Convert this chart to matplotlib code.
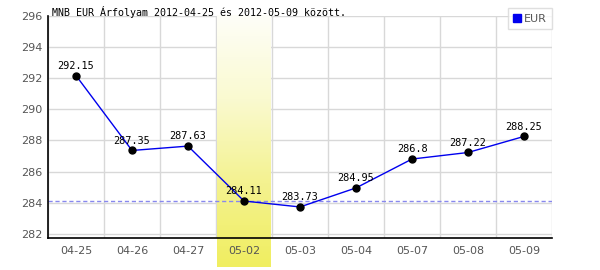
import matplotlib
matplotlib.use("Agg")
import matplotlib.pyplot as plt
import numpy as np
from matplotlib.colors import LinearSegmentedColormap
from matplotlib.lines import Line2D

dates = ["04-25", "04-26", "04-27", "05-02", "05-03", "05-04", "05-07", "05-08", "05-09"]
values = [292.15, 287.35, 287.63, 284.11, 283.73, 284.95, 286.8, 287.22, 288.25]
labels = ["292.15", "287.35", "287.63", "284.11", "283.73", "284.95", "286.8", "287.22", "288.25"]
highlight_idx = 3
ref_value = 284.11
yticks = [282, 284, 286, 288, 290, 292, 294, 296]
title = "MNB EUR Árfolyam 2012-04-25 és 2012-05-09 között."

fig = plt.figure(figsize=(6, 2.7), dpi=100)
ax = fig.add_axes([48/600, 1-238/270, 504/600, (238-15.5)/270])
n = len(dates)
x = np.arange(n)
ax.set_xlim(-0.5, n-0.5)
ax.set_ylim(281.74, 296)

# grid
for b in np.arange(-0.5, n):
    ax.axvline(b, color="#d8d8d8", lw=1, zorder=0)
for yv in yticks:
    ax.axhline(yv, color="#d8d8d8", lw=1, zorder=0)

# highlight gradient band (extends below axis)
cmap = LinearSegmentedColormap.from_list("hl", ["#fefef8", "#fafad0", "#f4f290", "#f0ee60"])
grad = np.linspace(0, 1, 256).reshape(-1, 1)
bx0 = highlight_idx - 0.5 + 1/56
bx1 = highlight_idx + 0.5 - 1/56
ybot = 281.74 - (267-238)/15.6
ax.imshow(grad, cmap=cmap, aspect="auto", origin="upper",
          extent=[bx0, bx1, ybot, 296], zorder=1, clip_on=False)

ax.axhline(ref_value, color="#8888ee", lw=1, ls=(0, (3, 2)), zorder=2)

ax.plot(x, values, color="#0000ee", lw=1, zorder=3)
ax.plot(x, values, "o", color="black", ms=5, zorder=4)
for xi, v, lab in zip(x, values, labels):
    ax.annotate(lab, (xi, v), xytext=(0, 3.5), textcoords="offset points",
                ha="center", va="bottom", fontsize=7.4, family="DejaVu Sans Mono",
                color="black", zorder=5)

ax.set_xticks(x)
ax.set_xticklabels(dates)
ax.set_yticks(yticks)
ax.set_yticklabels([str(t) for t in yticks])
ax.tick_params(length=0, colors="#555555", labelsize=8, pad=6)
ax.tick_params(axis="y", pad=4)
for s in ["top", "right"]:
    ax.spines[s].set_visible(False)
for s in ["left", "bottom"]:
    ax.spines[s].set_color("black")
    ax.spines[s].set_linewidth(1.2)
    ax.spines[s].set_zorder(6)

fig.text(52/600, 1-16/270, title, family="DejaVu Sans Mono", fontsize=7.2,
         ha="left", va="baseline", color="black")

# legend
h = [Line2D([], [], marker="s", ls="none", color="#0000ee", ms=6)]
leg = fig.legend(h, ["EUR"], loc="upper right", bbox_to_anchor=(552/600, 1-8/270),
                 frameon=True, fontsize=8, handlelength=0.6, handletextpad=0.3,
                 borderpad=0.5, borderaxespad=0, fancybox=False)
leg.get_frame().set_edgecolor("#d8d8d8")
leg.get_frame().set_linewidth(1)
for t in leg.get_texts():
    t.set_color("#555555")

fig.savefig("out.png", dpi=100)
